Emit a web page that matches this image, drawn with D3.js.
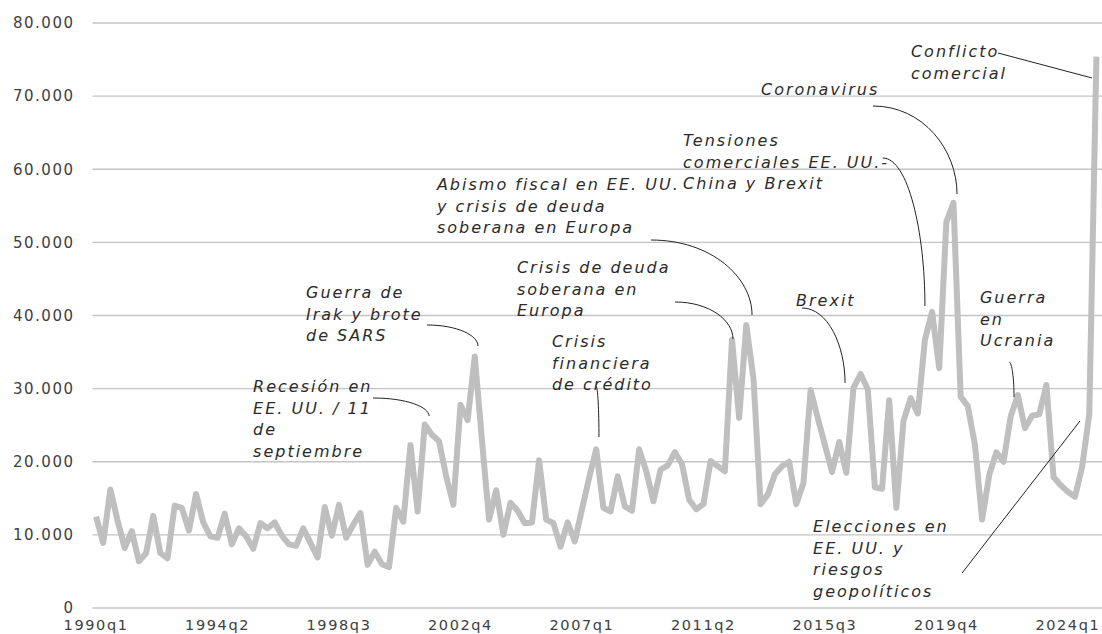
<!DOCTYPE html>
<html><head><meta charset="utf-8">
<script src="https://cdn.jsdelivr.net/npm/d3@7"></script>
<style>body{margin:0;background:#fff}svg{display:block}</style>
</head><body>
<svg id="c" width="1102" height="634"></svg>
<script>
// ---- data ----
const quarters = [];
for (let yr = 1990; yr <= 2025; yr++) for (let q = 1; q <= 4; q++) { if (yr === 2025 && q > 1) break; quarters.push(yr + "q" + q); }

const values = [
 12500, 8900, 16200, 12000, 8200, 10500, 6400, 7500, 12600, 7500,
 6800, 14000, 13700, 10600, 15600, 11700, 9800, 9600, 12900, 8700,
 10900, 9800, 8100, 11600, 10900, 11700, 9900, 8700, 8500, 10900,
 8900, 6900, 13800, 9900, 14100, 9600, 11400, 13000, 5900, 7700,
 6000, 5600, 13700, 11800, 22300, 13200, 25100, 23700, 22800, 18000,
 14100, 27800, 25700, 34400, 23000, 12100, 16100, 10000, 14400, 13300,
 11600, 11700, 20200, 12100, 11600, 8400, 11700, 9100, 13500, 17800,
 21700, 13700, 13200, 18000, 13900, 13300, 21700, 18700, 14600, 18900,
 19500, 21300, 19700, 14800, 13500, 14200, 20100, 19400, 18700, 36700,
 26000, 38700, 31400, 14200, 15500, 18300, 19400, 20000, 14200, 17100,
 29800, 26000, 22300, 18600, 22700, 18500, 30100, 32000, 29900, 16500,
 16300, 28400, 13700, 25600, 28700, 26600, 36700, 40500, 32800, 52800,
 55400, 28900, 27600, 22300, 12100, 18200, 21300, 20000, 26200, 29100,
 24600, 26300, 26500, 30500, 17900, 16800, 15900, 15200, 19300, 26500,
 75400
];

const yTicks = [0, 10000, 20000, 30000, 40000, 50000, 60000, 70000, 80000];
const xTickLabels = ["1990q1","1994q2","1998q3","2002q4","2007q1","2011q2","2015q3","2019q4","2024q1"];

// annotation texts, anchored in data space: [quarter index, value]
const annotTexts = [
 ["Recesión en", "EE. UU. / 11", "de", "septiembre"],
 ["Guerra de", "Irak y brote", "de SARS"],
 ["Crisis", "financiera", "de crédito"],
 ["Crisis de deuda", "soberana en", "Europa"],
 ["Abismo fiscal en EE. UU.", "y crisis de deuda", "soberana en Europa"],
 ["Tensiones", "comerciales EE. UU.-", "China y Brexit"],
 ["Coronavirus"],
 ["Conflicto", "comercial"],
 ["Brexit"],
 ["Guerra", "en", "Ucrania"],
 ["Elecciones en", "EE. UU. y", "riesgos", "geopolíticos"]
];
const annotAnchors = [
 [21.97, 29538], [29.38, 42393], [63.8, 35692], [58.9, 45811], [47.7, 57162],
 [82.15, 63178], [93.06, 70153], [114.04, 75349], [97.96, 41299], [123.7, 41709], [100.34, 10393]
];
const leaderFrom = [
 [38.76, 28718], [46.32, 38700], [69.97, 30359], [81.03, 41846], [77.67, 50324],
 [110.1, 61538], [108.73, 68649], [126.23, 75896], [98.8, 41026], [127.77, 33641], [121.2, 4786]
];
const leaderTo = [
 [46.6, 26256], [53.45, 35829], [70.38, 23384], [89.14, 36786], [91.8, 40068],
 [116.0, 41299], [120.49, 56615], [139.39, 72478], [104.82, 30769], [128.47, 28854], [137.7, 25572]
];
const leaderCurved = [true, true, true, true, true, true, true, false, true, true, false];

// ---- drawing ----
const svg = d3.select("#c");
const W = 1102, H = 634;
const mLeft = 92.5, mRight = 1100, mTop = 23, mBottom = 608;

const x = d3.scaleBand().domain(quarters).range([mLeft, mRight]);
const xc = d => x(d) + x.bandwidth() / 2;
const xq = d3.scaleLinear().domain([0, quarters.length - 1]).range([xc(quarters[0]), xc(quarters[quarters.length - 1])]);
const y = d3.scaleLinear().domain([0, 80000]).range([mBottom, mTop]);

const loc = d3.formatLocale({decimal: ",", thousands: ".", grouping: [3], currency: ["", ""]});
const fmt = loc.format(",");

const FONT = "'DejaVu Sans', Verdana, sans-serif";

// gridlines
svg.append("g").selectAll("line").data(yTicks).join("line")
  .attr("x1", mLeft).attr("x2", W)
  .attr("y1", d => y(d)).attr("y2", d => y(d))
  .attr("stroke", "#c4c4c4").attr("stroke-width", 1.3);

// y axis
const ya = svg.append("g").attr("transform", `translate(${mLeft},0)`)
  .call(d3.axisLeft(y).tickValues(yTicks).tickSize(0).tickPadding(18).tickFormat(fmt));
ya.select(".domain").remove();
ya.selectAll("text").attr("font-family", FONT).attr("font-size", 15)
  .attr("letter-spacing", "1.5px").attr("fill", "#404040");

// x axis
const xa = svg.append("g").attr("transform", `translate(0,${mBottom})`)
  .call(d3.axisBottom(x).tickValues(xTickLabels).tickSize(0).tickPadding(12));
xa.select(".domain").remove();
xa.selectAll("text").attr("font-family", FONT).attr("font-size", 14.5)
  .attr("letter-spacing", "1.6px").attr("fill", "#404040");

// series line
const line = d3.line().x((d, i) => xc(quarters[i])).y(d => y(d));
svg.append("path").datum(values)
  .attr("d", line)
  .attr("fill", "none").attr("stroke", "#bfbfbf").attr("stroke-width", 6)
  .attr("stroke-linejoin", "round").attr("stroke-linecap", "butt");

// annotations
const ag = svg.append("g");
annotTexts.forEach((lines, k) => {
  const ax = xq(annotAnchors[k][0]), ay = y(annotAnchors[k][1]);
  const t = ag.append("text").attr("x", ax).attr("y", ay)
    .attr("font-family", FONT).attr("font-style", "italic").attr("font-size", 16)
    .attr("letter-spacing", "2px").attr("fill", "#2b2b2b");
  lines.forEach((s, j) => t.append("tspan").attr("x", ax).attr("y", ay + j * 21.5).text(s));

  const sx = xq(leaderFrom[k][0]), sy = y(leaderFrom[k][1]);
  const ex = xq(leaderTo[k][0]), ey = y(leaderTo[k][1]);
  let d;
  if (leaderCurved[k]) {
    const p = d3.path();
    p.moveTo(sx, sy);
    p.bezierCurveTo(sx + 0.6 * (ex - sx), sy, ex, ey - 0.5 * (ey - sy), ex, ey);
    d = p.toString();
  } else {
    d = `M${sx},${sy}L${ex},${ey}`;
  }
  ag.append("path").attr("d", d).attr("fill", "none").attr("stroke", "#222").attr("stroke-width", 1);
});
</script>
</body></html>
